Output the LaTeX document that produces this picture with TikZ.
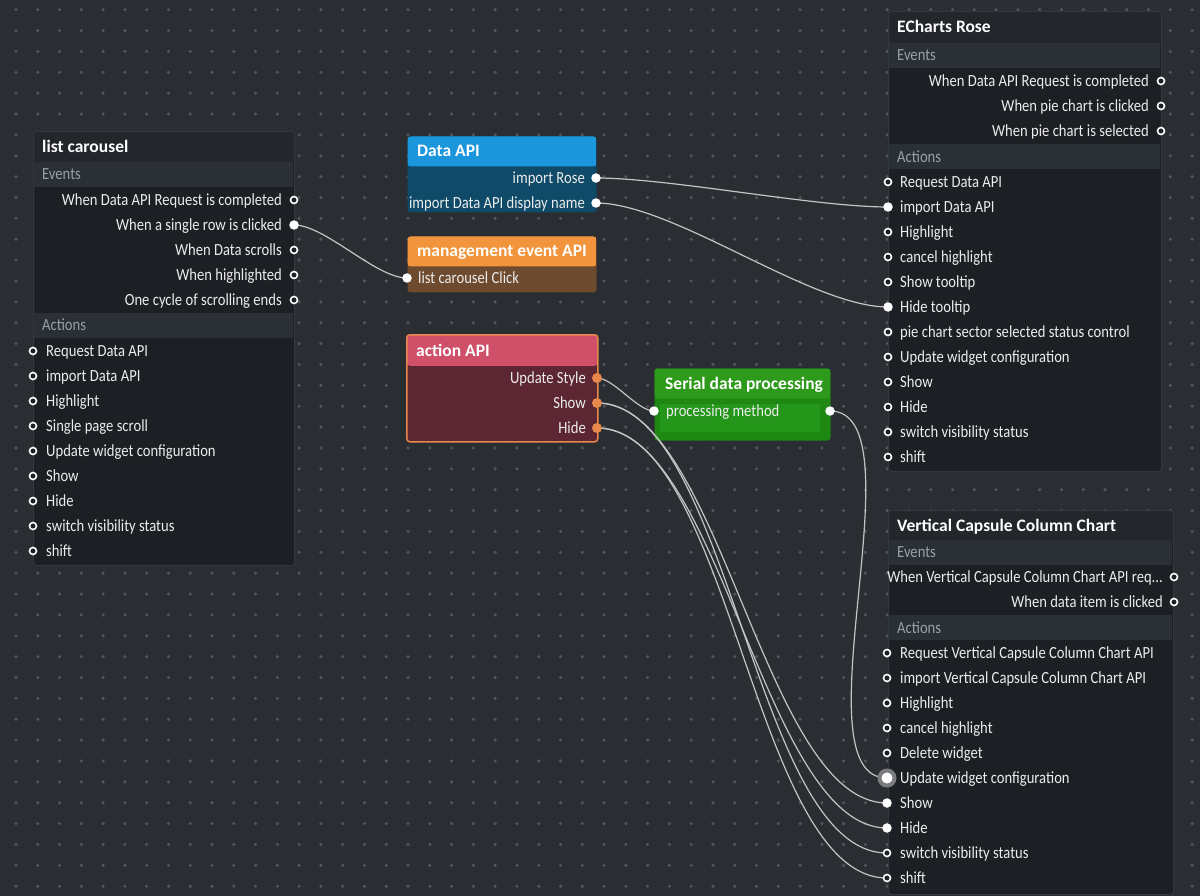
\documentclass[tikz,border=0pt]{standalone}
\usepackage{fontspec}
\setmainfont{Carlito}
\newfontfamily\itemface{Carlito}[FakeStretch=0.86]
\usetikzlibrary{calc}

\definecolor{canvas}{HTML}{2A2D31}
\definecolor{gridDot}{HTML}{50555B}
\definecolor{panelBody}{HTML}{1C1F23}
\definecolor{panelHead}{HTML}{23272C}
\definecolor{panelBand}{HTML}{2B3036}
\definecolor{panelLine}{HTML}{33383E}
\definecolor{sectGray}{HTML}{9AA0A6}
\definecolor{itemWhite}{HTML}{ECECEC}
\definecolor{wireGray}{HTML}{C4C4C4}
\definecolor{apiBlue}{HTML}{1B96DC}
\definecolor{apiBlueBody}{HTML}{0F4B68}
\definecolor{evtOrange}{HTML}{F2943C}
\definecolor{evtBrown}{HTML}{6E4A2E}
\definecolor{actPink}{HTML}{CF5068}
\definecolor{actMaroon}{HTML}{5C2632}
\definecolor{actEdge}{HTML}{E8884A}
\definecolor{serGreen}{HTML}{2E9A1C}
\definecolor{serBody}{HTML}{1E8812}
\definecolor{serField}{HTML}{24961A}
\definecolor{hoverRing}{HTML}{7A7C80}

\pgfdeclarelayer{ports}
\pgfsetlayers{main,ports}

\newcommand{\itemfont}{\itemface\fontsize{17}{19}\selectfont}
\newcommand{\headfont}{\fontsize{17.5}{19}\selectfont\bfseries}

\begin{document}
\begin{tikzpicture}[
  x=1pt, y=-1pt,
  panel/.style={draw=panelLine, line width=1pt, fill=panelBody, rounded corners=3pt,
                anchor=north west, inner sep=0pt},
  band/.style={fill=panelBand, anchor=north west, inner sep=0pt, minimum height=25pt},
  field/.style={fill=serField, anchor=north west, inner sep=0pt, minimum height=28pt},
  ttl/.style={font=\headfont, text=white, anchor=west, inner sep=0pt,
              text height=15pt, text depth=3pt},
  sect/.style={font=\itemfont, text=sectGray, anchor=west, inner sep=0pt,
               text height=13.5pt, text depth=3pt},
  evt/.style={font=\itemfont, text=itemWhite, anchor=east, inner sep=0pt,
              text height=13.5pt, text depth=3pt},
  act/.style={evt, anchor=west},
  porto/.style={circle, draw=white, fill=panelBody, line width=1.6pt, inner sep=0pt,
                minimum size=7pt},
  portf/.style={circle, fill=white, inner sep=0pt, minimum size=9.5pt},
  porta/.style={circle, fill=actEdge, inner sep=0pt, minimum size=10pt},
  porth/.style={circle, fill=white, draw=hoverRing, line width=4pt, inner sep=0pt,
                minimum size=15pt},
  wire/.style={draw=wireGray, line width=1.2pt, out=0, in=180, looseness=0.64},
]
  %% ── canvas + dot grid ──
  \fill[canvas] (0,0) rectangle (1200,896);
  \useasboundingbox (0,0) rectangle (1200,896);
  \foreach \i in {0,...,54}
    \foreach \j in {0,...,42}
      \fill[gridDot] (16+\i*21.78, 9.7+\j*20.87) circle (1.8pt);

  %% ══════════════════════════════════════════════════════
  %% list carousel
  \node[panel, minimum width=261pt, minimum height=434pt,
        path picture={\fill[panelHead] (path picture bounding box.north west)
          rectangle ([yshift=-31pt]path picture bounding box.north east);}]
    (lc) at (33,131) {};
  \node[ttl] (lc-title) at (42,147) {list carousel};
  \node[band, minimum width=259pt] (lc-evband) at (34,162) {};
  \node[sect] (lc-evlbl) at (42,174) {Events};
  \node[evt] (lc-e1) at (282,200) {When Data API Request is completed};
  \node[evt] (lc-e2) at (282,225) {When a single row is clicked};
  \node[evt] (lc-e3) at (282,250) {When Data scrolls};
  \node[evt] (lc-e4) at (282,275) {When highlighted};
  \node[evt] (lc-e5) at (282,300) {One cycle of scrolling ends};
  \node[band, minimum width=259pt] (lc-actband) at (34,313) {};
  \node[sect] (lc-actlbl) at (42,325) {Actions};
  \foreach \k/\txt in {1/Request Data API, 2/import Data API, 3/Highlight,
      4/Single page scroll, 5/Update widget configuration, 6/Show, 7/Hide,
      8/switch visibility status, 9/shift}
    \node[act] (lc-a\k) at (46,326+25*\k) {\txt};
  \begin{pgfonlayer}{ports}
    \foreach \k in {1,3,4,5}
      \node[porto] (lc-pe\k) at (294,175+25*\k) {};
    \node[portf] (lc-pe2) at (294,225) {};
    \foreach \k in {1,...,9}
      \node[porto] (lc-pa\k) at (33,326+25*\k) {};
  \end{pgfonlayer}

  %% ══════════════════════════════════════════════════════
  %% Data API
  \node[panel, draw=none, fill=apiBlueBody, minimum width=189pt, minimum height=76pt,
        path picture={\fill[apiBlue] (path picture bounding box.north west)
          rectangle ([yshift=-30pt]path picture bounding box.north east);}]
    (da) at (407,136) {};
  \node[ttl] (da-title) at (417,151) {Data API};
  \node[evt] (da-o1) at (585,178) {import Rose};
  \node[evt] (da-o2) at (585,203) {import Data API display name};
  \begin{pgfonlayer}{ports}
    \node[portf] (da-p1) at (596,178) {};
    \node[portf] (da-p2) at (596,203) {};
  \end{pgfonlayer}

  %% management event API
  \node[panel, draw=none, fill=evtBrown, minimum width=189pt, minimum height=56pt,
        path picture={\fill[evtOrange] (path picture bounding box.north west)
          rectangle ([yshift=-30pt]path picture bounding box.north east);}]
    (me) at (407,236) {};
  \node[ttl] (me-title) at (417,251) {management event API};
  \node[act] (me-i1) at (418,278) {list carousel Click};
  \begin{pgfonlayer}{ports}
    \node[portf] (me-p1) at (407,278) {};
  \end{pgfonlayer}

  %% action API
  \node[panel, draw=actEdge, line width=1.5pt, fill=actMaroon,
        minimum width=191pt, minimum height=107pt,
        path picture={\fill[actPink] (path picture bounding box.north west)
          rectangle ([yshift=-31pt]path picture bounding box.north east);}]
    (ac) at (406,334) {};
  \node[ttl] (ac-title) at (416,350) {action API};
  \node[evt] (ac-o1) at (586,378) {Update Style};
  \node[evt] (ac-o2) at (586,403) {Show};
  \node[evt] (ac-o3) at (586,428) {Hide};
  \begin{pgfonlayer}{ports}
    \foreach \k in {1,2,3}
      \node[porta] (ac-p\k) at (597,353+25*\k) {};
  \end{pgfonlayer}

  %% Serial data processing
  \node[panel, draw=none, fill=serBody, minimum width=176pt, minimum height=72pt,
        path picture={\fill[serGreen] (path picture bounding box.north west)
          rectangle ([yshift=-30pt]path picture bounding box.north east);}]
    (sp) at (654,368) {};
  \node[ttl] (sp-title) at (665,383) {Serial data processing};
  \node[field, minimum width=160pt] (sp-field) at (660,404) {};
  \node[act] (sp-i1) at (666,411) {processing method};
  \begin{pgfonlayer}{ports}
    \node[portf] (sp-pin) at (654,411) {};
    \node[portf] (sp-pout) at (830,411) {};
  \end{pgfonlayer}

  %% ══════════════════════════════════════════════════════
  %% ECharts Rose
  \node[panel, minimum width=273pt, minimum height=460pt,
        path picture={\fill[panelHead] (path picture bounding box.north west)
          rectangle ([yshift=-32pt]path picture bounding box.north east);}]
    (er) at (888,11) {};
  \node[ttl] (er-title) at (897,27) {ECharts Rose};
  \node[band, minimum width=271pt] (er-evband) at (889,43) {};
  \node[sect] (er-evlbl) at (897,55) {Events};
  \node[evt] (er-e1) at (1149,81) {When Data API Request is completed};
  \node[evt] (er-e2) at (1149,106) {When pie chart is clicked};
  \node[evt] (er-e3) at (1149,131) {When pie chart is selected};
  \node[band, minimum width=271pt] (er-actband) at (889,144) {};
  \node[sect] (er-actlbl) at (897,157) {Actions};
  \foreach \k/\txt in {1/Request Data API, 2/import Data API, 3/Highlight,
      4/cancel highlight, 5/Show tooltip, 6/Hide tooltip,
      7/pie chart sector selected status control, 8/Update widget configuration,
      9/Show, 10/Hide, 11/switch visibility status, 12/shift}
    \node[act] (er-a\k) at (900,157+25*\k) {\txt};
  \begin{pgfonlayer}{ports}
    \foreach \k in {1,2,3}
      \node[porto] (er-pe\k) at (1161,56+25*\k) {};
    \foreach \k in {1,3,4,5,7,8,9,10,11,12}
      \node[porto] (er-pa\k) at (888,157+25*\k) {};
    \node[portf] (er-pa2) at (888,207) {};
    \node[portf] (er-pa6) at (888,307) {};
  \end{pgfonlayer}

  %% Vertical Capsule Column Chart
  \node[panel, minimum width=285pt, minimum height=384pt,
        path picture={\fill[panelHead] (path picture bounding box.north west)
          rectangle ([yshift=-30pt]path picture bounding box.north east);}]
    (vc) at (888,510) {};
  \node[ttl] (vc-title) at (897,525) {Vertical Capsule Column Chart};
  \node[band, minimum width=283pt] (vc-evband) at (889,540) {};
  \node[sect] (vc-evlbl) at (897,552) {Events};
  \node[evt] (vc-e1) at (1163,577) {When Vertical Capsule Column Chart API req...};
  \node[evt] (vc-e2) at (1163,602) {When data item is clicked};
  \node[band, minimum width=283pt] (vc-actband) at (889,615) {};
  \node[sect] (vc-actlbl) at (897,628) {Actions};
  \foreach \k/\txt in {1/Request Vertical Capsule Column Chart API,
      2/import Vertical Capsule Column Chart API, 3/Highlight, 4/cancel highlight,
      5/Delete widget, 6/Update widget configuration, 7/Show, 8/Hide,
      9/switch visibility status, 10/shift}
    \node[act] (vc-a\k) at (900,628+25*\k) {\txt};
  \begin{pgfonlayer}{ports}
    \foreach \k in {1,2}
      \node[porto] (vc-pe\k) at (1174,552+25*\k) {};
    \foreach \k in {1,...,5,9,10}
      \node[porto] (vc-pa\k) at (887,628+25*\k) {};
    \node[porth] (vc-pa6) at (887,778) {};
    \node[portf] (vc-pa7) at (887,803) {};
    \node[portf] (vc-pa8) at (887,828) {};
  \end{pgfonlayer}

  %% ══════════════════════════════════════════════════════
  %% ═══ CONNECTIONS ═══
  \draw[wire] (lc-pe2.center) to (me-p1.center);
  \draw[wire] (da-p1.center) to (er-pa2.center);
  \draw[wire] (da-p2.center) to (er-pa6.center);
  \draw[wire] (ac-p1.center) to (sp-pin.center);
  \draw[wire] (sp-pout.center) to (vc-pa6.center);
  %% action API → chart visibility
  \draw[wire] (ac-p2.center) to (vc-pa7.center);
  \draw[wire] (ac-p2.center) to (vc-pa9.center);
  \draw[wire] (ac-p3.center) to (vc-pa8.center);
  \draw[wire] (ac-p3.center) to (vc-pa10.center);
\end{tikzpicture}
\end{document}
